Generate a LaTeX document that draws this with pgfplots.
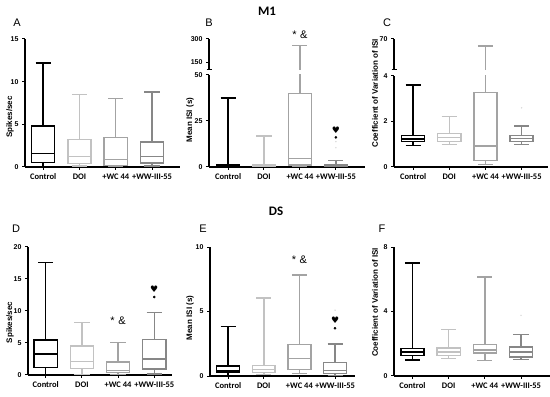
\documentclass[border=0pt]{standalone}
\usepackage{fontspec}
\setmainfont{Liberation Sans}
\newfontfamily\calfont{Carlito}
\newfontfamily\djv{DejaVu Sans}
\usepackage{pgfplots}
\pgfplotsset{compat=1.18}
\usepgfplotslibrary{statistics}

\definecolor{cdoi}{gray}{0.76}
\definecolor{cwc}{gray}{0.64}
\definecolor{cww}{gray}{0.53}
\definecolor{cfaint}{gray}{0.86}

\pgfplotsset{
  bp/.style={
    scale only axis, anchor=south west,
    axis x line*=bottom, axis y line*=left,
    axis line style={line width=1.2pt},
    tick align=outside, major tick length=3pt,
    tick style={line width=1pt, black},
    xtick={0,1,2,3},
    xticklabels={Control,DOI,+WC 44,+WW-III-55},
    xticklabel style={font=\calfont\bfseries\fontsize{8.5}{10}\selectfont},
    yticklabel style={font=\bfseries\fontsize{7}{8}\selectfont},
    /pgf/number format/assume math mode=true,
    ylabel style={font=\bfseries\fontsize{8}{9}\selectfont},
    boxplot/draw direction=y,
    boxplot/box extend=0.64,
    boxplot/whisker extend=0.42,
    clip mode=individual,
  },
  up/.style={
    scale only axis, anchor=south west,
    axis x line=none, axis y line*=left,
    axis line style={line width=1.2pt},
    tick align=outside, major tick length=3pt,
    tick style={line width=1pt, black},
    yticklabel style={font=\bfseries\fontsize{7}{8}\selectfont},
    /pgf/number format/assume math mode=true,
    boxplot/draw direction=y,
    boxplot/box extend=0.64,
    boxplot/whisker extend=0.42,
    clip mode=individual,
    extra y tick labels={},
    extra y tick style={major tick length=5pt, tick align=center},
  }
}
\newcommand{\bx}[7]{\addplot[#1, line width=1.45pt, boxplot prepared={draw position=#2, lower whisker=#3, lower quartile=#4, median=#5, upper quartile=#6, upper whisker=#7}] coordinates {};}

\begin{document}
\begin{tikzpicture}[x=1pt,y=1pt]
\useasboundingbox (0,0) rectangle (550,397);

% titles and panel letters
\node[font=\calfont\bfseries\fontsize{13}{14}\selectfont] at (267,386) {M1};
\node[font=\calfont\bfseries\fontsize{13}{14}\selectfont] at (276,186) {DS};
\node[font=\fontsize{11}{12}\selectfont] at (17,374.5) {A};
\node[font=\fontsize{11}{12}\selectfont] at (209,374.5) {B};
\node[font=\fontsize{11}{12}\selectfont] at (387,374.5) {C};
\node[font=\fontsize{11}{12}\selectfont] at (16,168) {D};
\node[font=\fontsize{11}{12}\selectfont] at (203,168) {E};
\node[font=\fontsize{11}{12}\selectfont] at (382,168) {F};

% ---------- A ----------
\begin{axis}[bp, at={(25pt,230pt)}, width=155pt, height=128pt,
  xmin=-0.5, xmax=3.77, ymin=0, ymax=15, ytick={0,5,10,15},
  ylabel={Spikes/sec}, ylabel style={at={(axis description cs:-0.097,0.39)},anchor=center}]
\bx{black}{0}{0.05}{0.5}{1.56}{4.8}{12.2}
\bx{cdoi}{1}{0.1}{0.4}{1.2}{3.24}{8.5}
\bx{cwc}{2}{0.05}{0.2}{0.9}{3.44}{8.0}
\bx{cww}{3}{0.1}{0.47}{1.2}{2.93}{8.8}
\end{axis}

% ---------- B ----------
\begin{axis}[bp, at={(209pt,230pt)}, width=156pt, height=92pt,
  xmin=-0.53, xmax=3.81, ymin=0, ymax=50, ytick={0,25,50},
  ylabel={Mean ISI (s)}, ylabel style={at={(axis description cs:-0.122,0.51)},anchor=center}]
\bx{black}{0}{0}{0.3}{0.8}{1.5}{37.4}
\bx{cdoi}{1}{0}{0.3}{0.8}{1.4}{16.8}
\bx{cwc}{2}{0.2}{1.1}{4.7}{40}{256}
\bx{cww}{3}{0}{0.2}{0.8}{1.4}{3.4}
\addplot[only marks, mark=*, mark size=0.5pt, cfaint] coordinates {(3,13.8) (3,10.5)};
\addplot[only marks, mark=*, mark size=1.1pt, black] coordinates {(3,16.1)};
\node[font=\djv\fontsize{9}{9}\selectfont] at (axis cs:3,19.8) {♥};
\end{axis}
\begin{axis}[up, at={(209pt,327.3pt)}, width=156pt, height=30.7pt,
  xmin=-0.53, xmax=3.81, ymin=100, ymax=300, ytick={150,300}, extra y ticks={100}]
\bx{cwc}{2}{0.2}{1.1}{4.7}{40}{256}
\node[font=\fontsize{11}{12}\selectfont] at (axis cs:2,300) [yshift=4pt] {*\,\,\&};
\end{axis}

% ---------- C ----------
\begin{axis}[bp, at={(394pt,230pt)}, width=154pt, height=91pt,
  xmin=-0.53, xmax=3.73, ymin=0, ymax=4, ytick={0,2,4},
  ylabel={Coefficient of Variation of ISI}, ylabel style={at={(axis description cs:-0.123,0.81)},anchor=center}]
\bx{black}{0}{0.95}{1.12}{1.24}{1.38}{3.6}
\bx{cdoi}{1}{1.0}{1.12}{1.29}{1.48}{2.23}
\bx{cwc}{2}{0.1}{0.28}{0.92}{3.27}{56}
\bx{cww}{3}{0.98}{1.12}{1.25}{1.38}{1.8}
\addplot[only marks, mark=*, mark size=0.5pt, cfaint] coordinates {(3,2.6)};
\end{axis}
\begin{axis}[up, at={(394pt,327.7pt)}, width=154pt, height=30.3pt,
  xmin=-0.53, xmax=3.73, ymin=10, ymax=70, ytick={70}, extra y ticks={10}]
\bx{cwc}{2}{0.1}{0.28}{0.92}{3.27}{56}
\end{axis}

% ---------- D ----------
\begin{axis}[bp, at={(28pt,22pt)}, width=144pt, height=128pt,
  xmin=-0.49, xmax=3.49, ymin=0, ymax=20, ytick={0,5,10,15,20},
  ylabel={Spikes/sec}, ylabel style={at={(axis description cs:-0.125,0.41)},anchor=center}]
\bx{black}{0}{0.1}{1.14}{3.27}{5.45}{17.6}
\bx{cdoi}{1}{0.1}{1.04}{2.13}{4.5}{8.2}
\bx{cwc}{2}{0.1}{0.36}{0.68}{2.03}{5.04}
\bx{cww}{3}{0.15}{0.94}{2.5}{5.56}{9.77}
\addplot[only marks, mark=*, mark size=1.1pt, black] coordinates {(3,12.2)};
\node[font=\djv\fontsize{9}{9}\selectfont] at (axis cs:3,13.4) {♥};
\node[font=\fontsize{11}{12}\selectfont] at (axis cs:2,8.4) {*\,\,\&};
\end{axis}

% ---------- E ----------
\begin{axis}[bp, at={(210pt,21pt)}, width=145pt, height=129pt,
  xmin=-0.51, xmax=3.56, ymin=0, ymax=10, ytick={0,5,10},
  ylabel={Mean ISI (s)}, ylabel style={at={(axis description cs:-0.138,0.45)},anchor=center}]
\bx{black}{0}{0.05}{0.26}{0.39}{0.78}{3.85}
\bx{cdoi}{1}{0.1}{0.28}{0.49}{0.83}{6.05}
\bx{cwc}{2}{0.2}{0.49}{1.34}{2.43}{7.83}
\bx{cww}{3}{0.05}{0.2}{0.44}{1.06}{2.48}
\addplot[only marks, mark=*, mark size=0.5pt, cfaint] coordinates {(3,5.1)};
\addplot[only marks, mark=*, mark size=1.1pt, black] coordinates {(3,3.7)};
\node[font=\djv\fontsize{9}{9}\selectfont] at (axis cs:3,4.3) {♥};
\node[font=\fontsize{11}{12}\selectfont] at (axis cs:2,9.05) {*\,\,\&};
\end{axis}

% ---------- F ----------
\begin{axis}[bp, at={(394pt,21pt)}, width=156pt, height=129pt,
  xmin=-0.51, xmax=3.8, ymin=0, ymax=8, ytick={0,4,8},
  ylabel={Coefficient of Variation of ISI}, ylabel style={at={(axis description cs:-0.122,0.57)},anchor=center}]
\bx{black}{0}{1.0}{1.26}{1.48}{1.71}{7.02}
\bx{cdoi}{1}{1.07}{1.26}{1.48}{1.73}{2.87}
\bx{cwc}{2}{0.97}{1.42}{1.6}{1.96}{6.13}
\bx{cww}{3}{1.03}{1.17}{1.5}{1.81}{2.56}
\addplot[only marks, mark=*, mark size=0.5pt, cfaint] coordinates {(3,3.76)};
\end{axis}
\end{tikzpicture}
\end{document}
